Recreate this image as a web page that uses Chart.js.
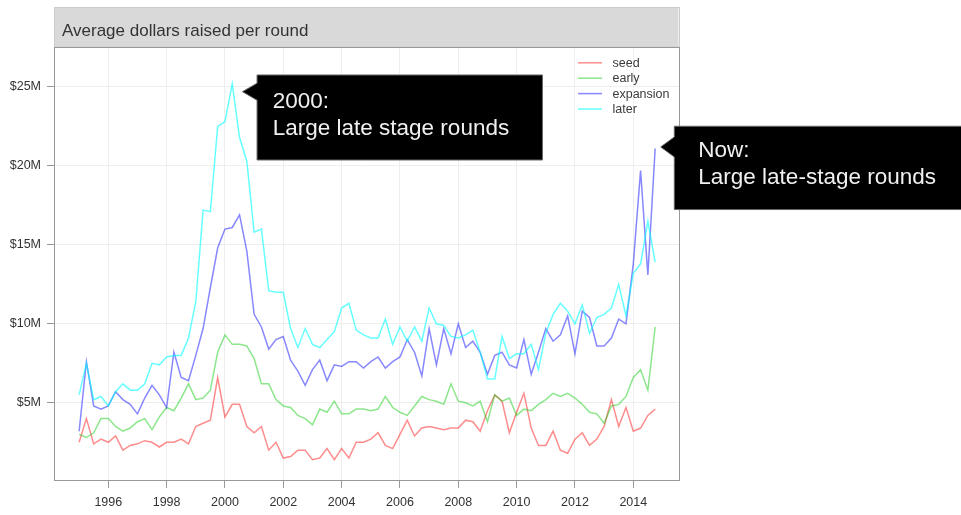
<!DOCTYPE html>
<html>
<head>
<meta charset="utf-8">
<title>Average dollars raised per round</title>
<script src="https://cdn.jsdelivr.net/npm/chart.js@4.4.1/dist/chart.umd.min.js"></script>
<style>
  html, body { margin: 0; padding: 0; background: #fff; }
  #wrap { width: 961px; height: 515px; position: relative; }
  canvas { display: block; }
</style>
</head>
<body>
<div id="wrap"><canvas id="chart" width="961" height="515"></canvas></div>
<script>
// ---- data: average round size in $M, one value per quarter, 1995 Q1 .. 2014 Q4 ----
const titleText = 'Average dollars raised per round';

const quarters = [];
for (let y = 1995; y <= 2014; y++) {
  for (let q = 1; q <= 4; q++) quarters.push(y + ' Q' + q);
}

const seed = [
  2.5, 4.0, 2.4, 2.7, 2.5, 2.9, 2.0, 2.3, 2.4, 2.6,
  2.5, 2.2, 2.5, 2.5, 2.7, 2.4, 3.5, 3.7, 3.9, 6.6,
  4.1, 4.9, 4.9, 3.5, 3.1, 3.5, 2.0, 2.5, 1.5, 1.6,
  2.0, 2.0, 1.4, 1.5, 2.1, 1.4, 2.1, 1.5, 2.5, 2.5,
  2.7, 3.1, 2.3, 2.1, 3.0, 3.9, 2.9, 3.4, 3.5, 3.4,
  3.3, 3.4, 3.4, 3.9, 3.8, 3.2, 4.5, 5.5, 5.1, 3.1,
  4.4, 5.6, 3.4, 2.3, 2.3, 3.2, 2.0, 1.8, 2.7, 3.1,
  2.3, 2.7, 3.5, 5.2, 3.5, 4.7, 3.2, 3.4, 4.2, 4.6
];
const early = [
  3.0, 2.8, 3.1, 4.0, 4.0, 3.5, 3.2, 3.4, 3.8, 4.0,
  3.3, 4.1, 4.7, 4.5, 5.3, 6.2, 5.2, 5.3, 5.8, 8.2,
  9.3, 8.7, 8.7, 8.6, 7.8, 6.2, 6.2, 5.2, 4.8, 4.7,
  4.2, 4.0, 3.6, 4.6, 4.4, 5.1, 4.3, 4.3, 4.6, 4.6,
  4.5, 4.6, 5.4, 4.7, 4.4, 4.2, 4.8, 5.4, 5.2, 5.1,
  4.9, 6.2, 5.1, 5.0, 4.8, 5.1, 3.8, 5.5, 5.1, 5.3,
  4.2, 4.6, 4.5, 4.9, 5.2, 5.6, 5.4, 5.6, 5.3, 4.9,
  4.4, 4.3, 3.7, 4.8, 4.9, 5.4, 6.6, 7.1, 5.8, 9.8
];
const expansion = [
  3.2, 7.6, 4.8, 4.6, 4.8, 5.7, 5.2, 4.9, 4.3, 5.3,
  6.1, 5.5, 4.7, 8.2, 6.6, 6.4, 8.0, 9.7, 12.3, 14.8,
  16.0, 16.1, 16.9, 14.6, 10.6, 9.8, 8.4, 9.0, 9.2, 7.7,
  7.0, 6.1, 7.1, 7.7, 6.4, 7.4, 7.3, 7.6, 7.6, 7.2,
  7.6, 7.9, 7.2, 7.6, 7.9, 9.0, 8.2, 6.7, 9.7, 7.4,
  9.7, 8.1, 10.0, 8.5, 8.9, 8.2, 6.8, 8.0, 8.2, 7.4,
  7.2, 9.0, 6.8, 8.2, 9.7, 8.9, 9.3, 10.5, 8.1, 10.8,
  10.4, 8.6, 8.6, 9.1, 10.3, 10.0, 13.8, 19.7, 13.1, 21.1
];
const later = [
  5.5, 7.5, 5.2, 5.4, 4.8, 5.7, 6.2, 5.8, 5.8, 6.2,
  7.5, 7.4, 7.9, 8.0, 8.0, 9.1, 11.4, 17.2, 17.1, 22.5,
  22.8, 25.2, 21.8, 20.3, 15.8, 16.0, 12.1, 12.0, 12.0, 9.7,
  8.5, 9.7, 8.7, 8.5, 9.0, 9.5, 11.0, 11.3, 9.6, 9.3,
  9.1, 9.1, 10.3, 8.7, 9.8, 8.9, 9.8, 8.9, 11.0, 10.0,
  9.9, 9.2, 9.1, 9.3, 9.6, 8.2, 6.5, 6.5, 9.2, 7.8,
  8.1, 8.1, 8.7, 7.1, 9.4, 10.6, 11.3, 10.8, 10.0, 11.2,
  9.4, 10.4, 10.6, 11.0, 12.5, 10.5, 13.2, 13.8, 16.5, 13.9
];

const seriesNames = ['seed', 'early', 'expansion', 'later'];
const xTickYears = [1996, 1998, 2000, 2002, 2004, 2006, 2008, 2010, 2012, 2014];
const yTickValues = [5, 10, 15, 20, 25];
const yTickLabels = ['$5M', '$10M', '$15M', '$20M', '$25M'];

// ---- presentation ----
const FONT = '"Liberation Sans", Arial, Helvetica, sans-serif';
const lineColors = ['rgba(255,0,0,0.45)', 'rgba(0,200,0,0.45)', 'rgba(0,0,255,0.47)', 'rgba(0,255,255,0.6)'];
const frameColor = '#999';

// quarter label "YYYY Qn" -> decimal year at the start of the quarter
function quarterToYear(label) {
  const [y, q] = label.split(' Q');
  return Number(y) + (Number(q) - 1) / 4;
}
const xs = quarters.map(quarterToYear);
const toPoints = vals => vals.map((v, i) => ({ x: xs[i], y: v }));

const seriesValues = [seed, early, expansion, later];
const datasets = seriesValues.map((vals, k) => ({
  label: seriesNames[k],
  data: toPoints(vals),
  borderColor: lineColors[k],
  backgroundColor: lineColors[k],
  borderWidth: 1.5,
  pointRadius: 0,
  tension: 0,
  fill: false,
  order: seriesValues.length - 1 - k   // later series painted on top
}));

// callouts anchored at a point in data space (year, $M)
const callouts = [
  { year: 2000.6, value: 24.7, lines: ['2000:', 'Large late stage rounds'],
    gap: 14.6, top: -16.7, width: 285.4, height: 85, half: 8.5, textX: 15.7, baselines: [33, 60] },
  { year: 2014.94, value: 21.2, lines: ['Now:', 'Large late-stage rounds'],
    gap: 13.6, top: -20.7, width: 320, height: 83.3, half: 10, textX: 24, baselines: [30.7, 58] }
];

const decorPlugin = {
  id: 'decor',
  beforeDraw(chart) {
    const { ctx, chartArea: a } = chart;
    ctx.save();
    ctx.fillStyle = '#fff';
    ctx.fillRect(0, 0, chart.width, chart.height);
    // title strip
    const stripTop = 7.5;
    ctx.fillStyle = '#d9d9d9';
    ctx.fillRect(a.left, stripTop, a.right - a.left, a.top - stripTop);
    ctx.strokeStyle = '#cccccc';
    ctx.lineWidth = 1;
    ctx.strokeRect(Math.round(a.left) - 0.5, stripTop, Math.round(a.right - a.left) + 1, a.top - stripTop);
    ctx.fillStyle = '#333';
    ctx.font = '17px ' + FONT;
    ctx.textBaseline = 'alphabetic';
    ctx.textAlign = 'left';
    ctx.fillText(titleText, a.left + 7, 35.5);
    ctx.restore();
  },
  afterDatasetsDraw(chart) {
    const { ctx, chartArea: a, scales } = chart;
    ctx.save();
    // panel frame
    ctx.strokeStyle = frameColor;
    ctx.lineWidth = 1;
    ctx.strokeRect(Math.round(a.left) - 0.5, Math.round(a.top) + 0.5,
                   Math.round(a.right - a.left) + 1, Math.round(a.bottom - a.top));
    // legend, top-right inside the panel
    ctx.font = '12.5px ' + FONT;
    ctx.textBaseline = 'middle';
    ctx.textAlign = 'left';
    chart.data.datasets.forEach((ds, i) => {
      const y = a.top + 15.8 + i * 15.4;
      const x0 = a.right - 100.5;
      ctx.strokeStyle = ds.borderColor;
      ctx.lineWidth = 1.5;
      ctx.beginPath();
      ctx.moveTo(x0, y);
      ctx.lineTo(x0 + 24, y);
      ctx.stroke();
      ctx.fillStyle = '#3a3a3a';
      ctx.fillText(ds.label, x0 + 34.5, y + 0.5);
    });
    // callouts
    callouts.forEach(c => {
      const tx = scales.x.getPixelForValue(c.year);
      const ty = scales.y.getPixelForValue(c.value);
      const bx = tx + c.gap, by = ty + c.top;
      ctx.fillStyle = '#000';
      ctx.strokeStyle = '#666';
      ctx.lineWidth = 1;
      ctx.beginPath();
      ctx.moveTo(bx, by);
      ctx.lineTo(bx + c.width, by);
      ctx.lineTo(bx + c.width, by + c.height);
      ctx.lineTo(bx, by + c.height);
      ctx.lineTo(bx, ty + c.half);
      ctx.lineTo(tx, ty);
      ctx.lineTo(bx, ty - c.half);
      ctx.closePath();
      ctx.fill();
      ctx.stroke();
      ctx.fillStyle = '#f0f0f0';
      ctx.font = '22.5px ' + FONT;
      ctx.textBaseline = 'alphabetic';
      c.lines.forEach((t, j) => ctx.fillText(t, bx + c.textX, by + c.baselines[j]));
    });
    ctx.restore();
  }
};

new Chart(document.getElementById('chart'), {
  type: 'line',
  data: { datasets },
  options: {
    responsive: false,
    animation: false,
    events: [],
    layout: { padding: { left: 0, top: 47, right: 282.5, bottom: 0 } },
    plugins: { legend: { display: false }, tooltip: { enabled: false }, title: { display: false } },
    scales: {
      x: {
        type: 'linear',
        min: 1994.173,
        max: 2015.55,
        afterBuildTicks: s => { s.ticks = xTickYears.map(v => ({ value: v })); },
        afterFit: s => { s.height = 35; },
        ticks: {
          autoSkip: false, maxRotation: 0, padding: 7,
          color: '#333', font: { family: FONT, size: 12.5 },
          callback: v => String(v)
        },
        grid: { color: '#eeeeee', lineWidth: 1, tickColor: frameColor, tickLength: 8, drawOnChartArea: true },
        border: { display: false }
      },
      y: {
        type: 'linear',
        min: 0.11,
        max: 27.53,
        afterBuildTicks: s => { s.ticks = yTickValues.map(v => ({ value: v })); },
        afterFit: s => { s.width = 55; },
        ticks: {
          padding: 6, color: '#333', font: { family: FONT, size: 12.5 },
          callback: v => yTickLabels[yTickValues.indexOf(v)]
        },
        grid: { color: '#eeeeee', lineWidth: 1, tickColor: frameColor, tickLength: 8, drawOnChartArea: true },
        border: { display: false }
      }
    }
  },
  plugins: [decorPlugin]
});
</script>
</body>
</html>
